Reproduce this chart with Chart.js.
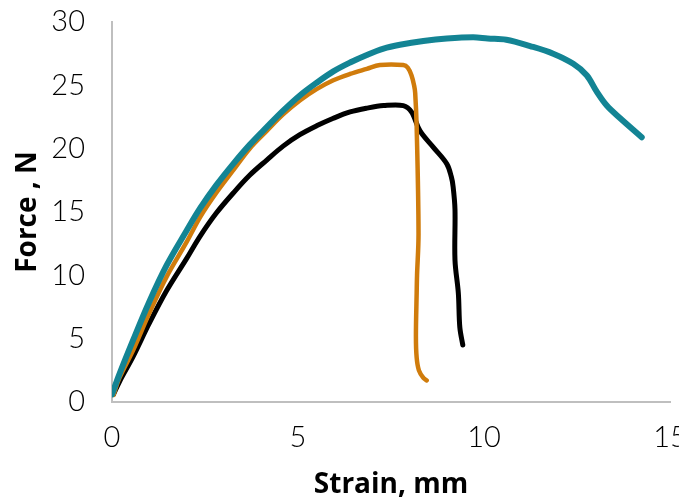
<!DOCTYPE html>
<html lang="en">
  <head>
    <meta charset="UTF-8" />
    <title>Force vs Strain</title>
    <script src="https://cdn.jsdelivr.net/npm/chart.js"></script>
    <style>
      body { margin: 0; background: #fff; }
      #chart { display: block; }
    </style>
  </head>
  <body>
    <canvas id="chart" width="679" height="502"></canvas>
    <script>
      // axis ticks
      const xTicks = [0, 5, 10, 15];
      const yTicks = [0, 5, 10, 15, 20, 25, 30];

      // teal sample
      const tealX = [0, 0.2, 0.57, 1.0, 1.47, 2.0, 2.37, 2.8, 3.26, 3.7, 4.16, 4.6, 5.05, 5.5, 5.95, 6.4, 6.85, 7.3, 7.74, 8.37, 9.0, 9.71, 10.1, 10.6, 11.24, 11.86, 12.4, 12.76, 13.03, 13.3, 13.66, 14.24];
      const tealY = [0.6, 2.2, 4.9, 7.9, 10.8, 13.5, 15.3, 17.1, 18.8, 20.3, 21.7, 23.0, 24.2, 25.2, 26.1, 26.8, 27.4, 27.9, 28.2, 28.5, 28.7, 28.8, 28.7, 28.6, 28.1, 27.5, 26.7, 25.8, 24.5, 23.4, 22.4, 20.9];

      // orange sample
      const orangeX = [0.04, 0.2, 0.57, 1.0, 1.47, 2.0, 2.37, 2.8, 3.26, 3.7, 4.16, 4.6, 5.05, 5.5, 5.95, 6.4, 6.85, 7.2, 7.83, 7.95, 8.05, 8.12, 8.15, 8.19, 8.24, 8.2, 8.19, 8.17, 8.19, 8.25, 8.37, 8.46];
      const orangeY = [0.55, 1.9, 4.1, 7.0, 9.9, 12.6, 14.6, 16.5, 18.3, 20.0, 21.4, 22.7, 23.8, 24.7, 25.4, 25.9, 26.3, 26.6, 26.6, 26.4, 25.8, 25.0, 24.4, 21.7, 13.3, 10.0, 8.6, 5.2, 3.5, 2.5, 1.9, 1.7];

      // black sample
      const blackX = [0.04, 0.2, 0.57, 1.0, 1.47, 2.0, 2.37, 2.8, 3.26, 3.7, 4.16, 4.6, 5.05, 5.5, 5.95, 6.4, 6.85, 7.3, 7.83, 8.05, 8.28, 8.64, 9.0, 9.12, 9.17, 9.22, 9.22, 9.31, 9.35, 9.43];
      const blackY = [0.6, 1.6, 3.6, 6.2, 8.8, 11.3, 13.1, 14.9, 16.5, 17.9, 19.1, 20.2, 21.1, 21.8, 22.4, 22.9, 23.2, 23.4, 23.4, 22.9, 21.4, 20.1, 18.8, 17.8, 17.0, 15.2, 11.2, 8.6, 5.9, 4.5];

      function toPoints(xs, ys) {
        return xs.map((x, i) => ({ x: x, y: ys[i] }));
      }

      function series(xs, ys, color, width) {
        return {
          data: toPoints(xs, ys),
          showLine: true,
          borderColor: color,
          backgroundColor: color,
          borderWidth: width,
          pointRadius: 0,
          tension: 0.35,
          borderCapStyle: "round",
          borderJoinStyle: "round",
        };
      }

      const tickFont = { family: "Lato", size: 29, weight: "300" };
      const titleFont = { family: "Open Sans", size: 28, weight: "bold" };

      new Chart(document.getElementById("chart"), {
        type: "scatter",
        data: {
          datasets: [
            series(tealX, tealY, "#138494", 6),
            series(orangeX, orangeY, "#d07c0c", 4.5),
            series(blackX, blackY, "#000000", 5),
          ],
        },
        options: {
          responsive: false,
          animation: false,
          layout: { padding: { left: 0, right: 9, top: 22, bottom: 0 } },
          plugins: { legend: { display: false }, tooltip: { enabled: false } },
          scales: {
            x: {
              type: "linear",
              min: 0,
              max: 15,
              afterBuildTicks: (s) => { s.ticks = xTicks.map((v) => ({ value: v })); },
              afterFit: (s) => { s.height = 100; s.paddingLeft = 0; s.paddingRight = 0; },
              grid: { display: false, drawTicks: false },
              border: { display: true, color: "#bfbfbf", width: 2 },
              ticks: { color: "#000", font: tickFont, padding: 18, maxRotation: 0 },
              title: { display: true, text: "Strain, mm", color: "#000", font: titleFont, padding: { top: 0, bottom: 0 } },
            },
            y: {
              type: "linear",
              min: 0,
              max: 30,
              afterBuildTicks: (s) => { s.ticks = yTicks.map((v) => ({ value: v })); },
              afterFit: (s) => { s.width = 112; s.paddingTop = 0; s.paddingBottom = 0; },
              grid: { display: false, drawTicks: false },
              border: { display: true, color: "#bfbfbf", width: 2 },
              ticks: { color: "#000", font: tickFont, padding: 27 },
              title: { display: true, text: "Force , N", color: "#000", font: titleFont, padding: { top: 11, bottom: 0 } },
            },
          },
        },
      });
    </script>
  </body>
</html>
